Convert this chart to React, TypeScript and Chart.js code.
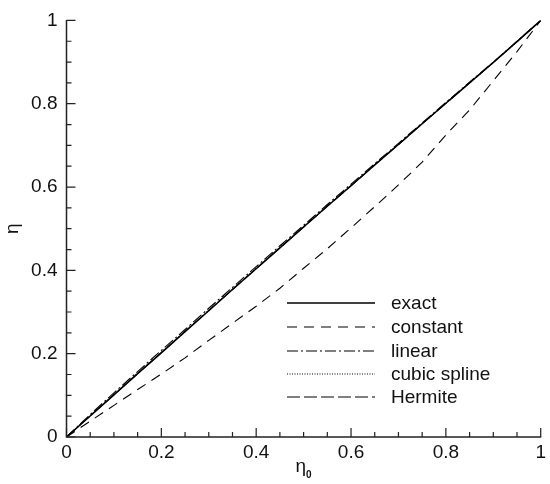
import React, { useEffect, useRef } from 'react';
import { Chart, registerables } from 'chart.js';

Chart.register(...registerables);

// ---- data ----
const xValues = [0, 0.05, 0.1, 0.15, 0.2, 0.25, 0.3, 0.35, 0.4, 0.45, 0.5, 0.55, 0.6, 0.65, 0.7, 0.75, 0.8, 0.85, 0.9, 0.95, 1];
const exact = [0, 0.0505, 0.101, 0.152, 0.202, 0.253, 0.303, 0.354, 0.404, 0.454, 0.504, 0.554, 0.603, 0.653, 0.702, 0.752, 0.801, 0.85, 0.899, 0.949, 1];
const constant = [0, 0.038, 0.076, 0.114, 0.151, 0.19, 0.232, 0.273, 0.314, 0.357, 0.405, 0.452, 0.502, 0.553, 0.605, 0.66, 0.725, 0.785, 0.855, 0.925, 1];
const linear = [0, 0.054, 0.106, 0.157, 0.208, 0.258, 0.309, 0.359, 0.409, 0.459, 0.508, 0.558, 0.607, 0.656, 0.705, 0.754, 0.803, 0.852, 0.9, 0.95, 1];
const cubicSpline = [0, 0.051, 0.102, 0.153, 0.203, 0.254, 0.304, 0.355, 0.405, 0.455, 0.505, 0.555, 0.604, 0.654, 0.703, 0.752, 0.801, 0.85, 0.899, 0.949, 1];
const hermite = [0, 0.051, 0.101, 0.152, 0.203, 0.253, 0.304, 0.354, 0.404, 0.454, 0.504, 0.554, 0.603, 0.653, 0.702, 0.752, 0.801, 0.85, 0.899, 0.949, 1];

const seriesNames = ['exact', 'constant', 'linear', 'cubic spline', 'Hermite'];
const seriesValues = [exact, constant, linear, cubicSpline, hermite];

const tickValues = [0, 0.2, 0.4, 0.6, 0.8, 1];
const xTickLabels = ['0', '0.2', '0.4', '0.6', '0.8', '1'];
const yTickLabels = ['0', '0.2', '0.4', '0.6', '0.8', '1'];
const minorStep = 0.05;

const xTitle = 'η';
const xTitleSub = '0';
const yTitle = 'η';

// ---- styles ----
const FONT = '"Liberation Sans", Arial, sans-serif';
const INK = '#111';
const AXIS = '#222';
const dashes: number[][] = [[], [10, 7], [11, 3, 2, 3], [1, 1.5], [13, 4]];
const widths = [1.5, 1.1, 1.1, 1.1, 1.1];

const decorPlugin = {
  id: 'decor',
  afterDraw(chart: any) {
    const ctx = chart.ctx as CanvasRenderingContext2D;
    const xs = chart.scales.x;
    const ys = chart.scales.y;
    const { left, right, top, bottom } = chart.chartArea;
    ctx.save();
    ctx.strokeStyle = AXIS;
    ctx.lineWidth = 1.5;
    ctx.setLineDash([]);
    // axis lines
    ctx.beginPath();
    ctx.moveTo(left, top - 0.5);
    ctx.lineTo(left, bottom);
    ctx.lineTo(right + 0.5, bottom);
    ctx.stroke();
    // inward ticks
    const nMinor = Math.round(1 / minorStep);
    ctx.lineWidth = 1.2;
    ctx.beginPath();
    for (let i = 0; i <= nMinor; i++) {
      const v = i * minorStep;
      const major = i % 4 === 0;
      const len = major ? 9 : 5;
      const px = xs.getPixelForValue(v);
      ctx.moveTo(px, bottom);
      ctx.lineTo(px, bottom - len);
      const py = ys.getPixelForValue(v);
      ctx.moveTo(left, py);
      ctx.lineTo(left + len, py);
    }
    ctx.stroke();

    // axis titles
    ctx.fillStyle = INK;
    ctx.font = `19px ${FONT}`;
    ctx.textBaseline = 'alphabetic';
    ctx.textAlign = 'left';
    const w = ctx.measureText(xTitle).width;
    ctx.font = `bold 10px ${FONT}`;
    const ws = ctx.measureText(xTitleSub).width;
    const cx = (left + right) / 2;
    const sx = cx - (w + ws) / 2;
    ctx.font = `19px ${FONT}`;
    ctx.fillText(xTitle, sx, 472);
    ctx.font = `bold 10px ${FONT}`;
    ctx.fillText(xTitleSub, sx + w, 478);

    ctx.save();
    ctx.translate(18, (top + bottom) / 2);
    ctx.rotate(-Math.PI / 2);
    ctx.font = `19px ${FONT}`;
    ctx.textAlign = 'center';
    ctx.fillText(yTitle, 0, 0);
    ctx.restore();

    // legend
    const rows = [303, 327, 351, 374, 397];
    const lx0 = 287, lx1 = 375, tx = 391;
    ctx.font = `19px ${FONT}`;
    ctx.textAlign = 'left';
    seriesNames.forEach((name, i) => {
      const y = rows[i];
      ctx.strokeStyle = '#000';
      ctx.lineWidth = widths[i];
      ctx.setLineDash(dashes[i]);
      ctx.beginPath();
      ctx.moveTo(lx0, y);
      ctx.lineTo(lx1, y);
      ctx.stroke();
      ctx.setLineDash([]);
      ctx.fillStyle = INK;
      ctx.fillText(name, tx, y + 5.5);
    });
    ctx.restore();
  },
};

export default function App() {
  const ref = useRef<HTMLCanvasElement | null>(null);
  useEffect(() => {
    if (!ref.current) return;
    const datasets = seriesNames.map((name, i) => ({
      label: name,
      data: xValues.map((x, j) => ({ x, y: seriesValues[i][j] })),
      borderColor: '#000',
      borderWidth: widths[i],
      borderDash: dashes[i],
      pointRadius: 0,
      fill: false,
      tension: 0,
    }));
    const chart = new Chart(ref.current, {
      type: 'line',
      data: { datasets },
      plugins: [decorPlugin],
      options: {
        animation: false,
        responsive: false,
        maintainAspectRatio: false,
        layout: { padding: { top: 11, right: 4, left: 0, bottom: 0 } },
        plugins: { legend: { display: false }, tooltip: { enabled: false } },
        scales: {
          x: {
            type: 'linear',
            min: 0,
            max: 1,
            afterBuildTicks: (s: any) => { s.ticks = tickValues.map((v) => ({ value: v })); },
            afterFit: (s: any) => { s.height = 47; },
            ticks: {
              callback: (_v: any, i: number) => xTickLabels[i],
              font: { family: FONT, size: 19 },
              color: INK,
              padding: 4,
              maxRotation: 0,
              autoSkip: false,
            },
            grid: { display: false, drawTicks: false },
            border: { display: false },
          },
          y: {
            type: 'linear',
            min: 0,
            max: 1,
            afterBuildTicks: (s: any) => { s.ticks = tickValues.map((v) => ({ value: v })); },
            afterFit: (s: any) => { s.width = 66.5; },
            ticks: {
              callback: (_v: any, i: number) => yTickLabels[i],
              font: { family: FONT, size: 19 },
              color: INK,
              padding: 9,
              autoSkip: false,
            },
            grid: { display: false, drawTicks: false },
            border: { display: false },
          },
        },
      },
    });
    return () => chart.destroy();
  }, []);
  return (
    <div style={{ position: 'fixed', left: 0, top: 0, width: 550, height: 484, background: '#fff' }}>
      <canvas ref={ref} width={550} height={484} style={{ width: 550, height: 484 }} />
    </div>
  );
}
